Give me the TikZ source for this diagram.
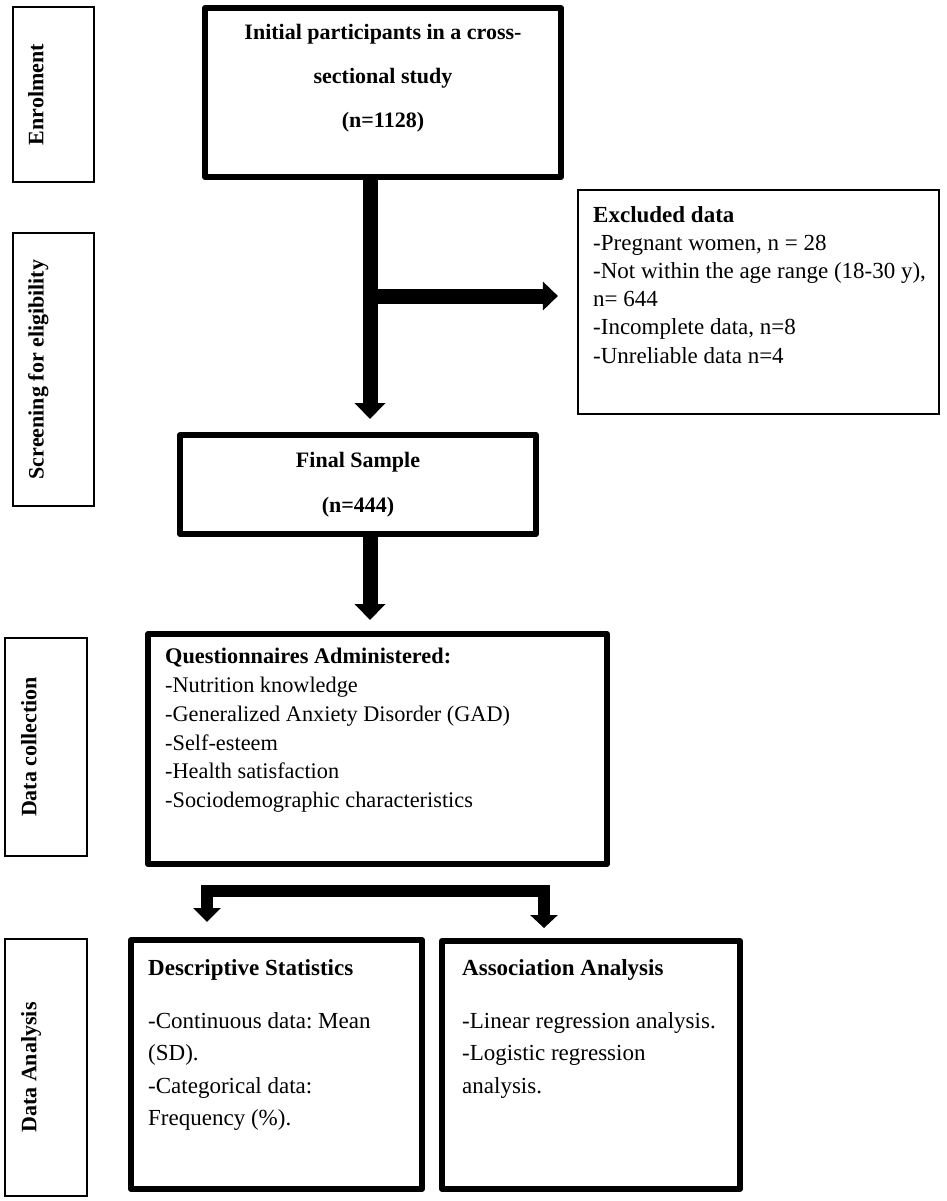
\documentclass[tikz,border=0pt]{standalone}
\usepackage{fontspec}
\setmainfont{Liberation Serif}
\usetikzlibrary{arrows.meta,calc}
\begin{document}
\frenchspacing
\begin{tikzpicture}[x=1pt,y=-1pt]
\tikzset{
  bigbox/.style={draw, line width=6pt, line join=round, inner sep=0pt},
  thinbox/.style={draw, line width=2.2pt, inner sep=0pt},
  stagelabel/.style={rotate=90, anchor=north, inner sep=0pt, font=\fontsize{22pt}{26pt}\selectfont\bfseries},
  bodytext/.style 2 args={anchor=north west, inner sep=0pt, align=left, font=\fontsize{#1}{#2}\selectfont\frenchspacing},
  flow/.style={line width=15pt, -{Triangle[width=30pt,length=16pt]}},
}
\useasboundingbox (0,0) rectangle (946,1201);

% stage boxes
\node[thinbox, minimum width=81pt, minimum height=175pt] (enrol) at (53.5,94.5) {};
\node[stagelabel] (enrolL) at ($(enrol.west)+(16,0)$) {Enrolment};
\node[thinbox, minimum width=81pt, minimum height=273pt] (screen) at (53.5,369.5) {};
\node[stagelabel] (screenL) at ($(screen.west)+(16,0)$) {Screening for eligibility};
\node[thinbox, minimum width=82pt, minimum height=218pt] (datacol) at (46,747) {};
\node[stagelabel] (datacolL) at ($(datacol.west)+(17,0)$) {Data collection};
\node[thinbox, minimum width=82pt, minimum height=257pt] (dataan) at (46,1067.5) {};
\node[stagelabel] (dataanL) at ($(dataan.west)+(17,0)$) {Data Analysis};

% main boxes
\node[bigbox, minimum width=356pt, minimum height=169pt] (init) at (383,92.5) {};
\node[align=center, inner sep=0pt, font=\fontsize{22pt}{44pt}\selectfont\bfseries] (initT) at (383,78) {Initial participants in a cross-\\sectional study\\(n=1128)};

\node[thinbox, minimum width=361pt, minimum height=224pt] (excl) at (758.5,302) {};
\node[bodytext={23pt}{28.2pt}] (exclT) at (593,206) {\textbf{Excluded data}\\-Pregnant women, n = 28\\-Not within the age range (18-30 y),\\n= 644\\-Incomplete data, n=8\\-Unreliable data n=4};

\node[bigbox, minimum width=356pt, minimum height=99pt, align=center, font=\fontsize{22pt}{45pt}\selectfont\bfseries] (final) at (358,484.5) {Final Sample\\(n=444)};

\node[bigbox, minimum width=459pt, minimum height=230pt] (quest) at (377.5,749) {};
\node[bodytext={22.3pt}{28.8pt}] (questT) at (165,648) {\textbf{Questionnaires Administered:}\\-Nutrition knowledge\\-Generalized Anxiety Disorder (GAD)\\-Self-esteem\\-Health satisfaction\\-Sociodemographic characteristics};

\node[bigbox, minimum width=291pt, minimum height=249pt] (desc) at (276.5,1064.5) {};
\node[bodytext={23pt}{32.5pt}] (descT) at (148,959) {\textbf{Descriptive Statistics}\\[20.5pt]-Continuous data: Mean\\(SD).\\-Categorical data:\\Frequency (\%).};

\node[bigbox, minimum width=298pt, minimum height=248pt] (assoc) at (591,1065) {};
\node[bodytext={23pt}{32.5pt}] (assocT) at (462,959) {\textbf{Association Analysis}\\[20.5pt]-Linear regression analysis.\\-Logistic regression\\analysis.};

% connectors
\coordinate (ax) at (370,0);
\draw[flow, shorten >=13pt] (init.south -| ax) -- (final.north -| ax);
\coordinate (bp) at (370,296);
\draw[line width=15pt, -{Triangle[width=28pt,length=15pt]}, shorten >=19pt] (bp) -- (bp -| excl.west);
\draw[flow, shorten >=11pt] (final.south -| ax) -- (quest.north -| ax);
\coordinate (lc) at (207,891);
\coordinate (rc) at (544,891);
\draw[line width=12pt, line join=miter, {Triangle[width=27pt,length=14pt]}-{Triangle[width=27pt,length=13pt]}, shorten <=15pt, shorten >=10pt] (desc.north -| lc) -- (lc) -- (rc) -- (assoc.north -| rc);
\end{tikzpicture}
\end{document}
